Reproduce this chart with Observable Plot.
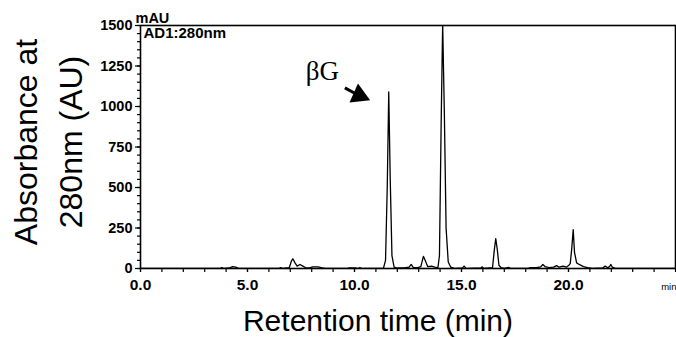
<!DOCTYPE html>
<html><head><meta charset="utf-8">
<script src="https://cdn.jsdelivr.net/npm/d3@7"></script>
<script src="https://cdn.jsdelivr.net/npm/@observablehq/plot@0.6"></script>
<style>body{margin:0;background:#fff}</style>
</head><body><div id="chart"></div>
<script>
// Chromatogram trace (retention time in min, absorbance in mAU)
const time = [0,3.7,3.8,3.9,4.15,4.3,4.45,4.6,6.45,6.55,6.65,6.95,7.05,7.12,7.22,7.32,7.45,7.55,7.7,7.9,8.05,8.3,8.5,8.65,
  9.65,9.75,10.05,10.15,10.25,10.35,11.35,11.45,11.53,11.6,11.67,11.75,11.85,12.0,12.3,12.55,12.65,12.75,12.95,13.1,13.22,13.32,13.42,13.6,13.75,13.9,
  13.97,14.05,14.12,14.2,14.28,14.38,14.5,14.7,15.05,15.12,15.2,15.3,15.9,15.97,16.05,16.45,16.53,16.6,16.67,16.75,16.85,17.0,17.2,17.3,
  18.1,18.2,18.5,18.7,18.8,18.9,19.1,19.3,19.45,19.55,19.75,19.9,20.0,20.08,20.15,20.22,20.28,20.38,20.5,20.7,20.9,21.1,21.6,21.72,21.82,21.92,21.98,22.05,22.2,25];
const mAU = [0,0,5,0,3,12,8,0,0,6,0,5,45,60,35,15,25,18,6,4,10,10,4,0,
  0,4,4,0,5,0,0,50,500,1090,550,80,8,3,3,8,25,6,5,12,75,45,12,14,8,6,
  80,900,1510,950,250,40,8,0,4,15,3,0,3,10,0,5,110,185,120,20,5,0,7,0,
  0,5,5,10,25,12,6,8,18,8,15,8,18,30,120,240,100,35,25,12,5,0,3,15,5,12,25,8,0,0];

const xMajorTicks = [0, 5, 10, 15, 20];
const xMinorTicks = [0,1,2,3,4,5,6,7,8,9,10,11,12,13,14,15,16,17,18,19,20,21,22,23,24,25];
const yMajorTicks = [0, 250, 500, 750, 1000, 1250, 1500];
const yMinorTicks = d3.range(0, 1501, 50);

// annotation: label and arrow (data coordinates)
const peakLabel = [{t: 8.5, v: 1220, text: "βG"}];
const arrowShaft = [{t1: 9.55, v1: 1115, t2: 10.25, v2: 1065}];
const arrowHead = [{t: 10.22, v: 1068}];

const data = time.map((t, i) => ({t, v: mAU[i]}));
const font = "'Liberation Sans', Arial, sans-serif";

const chart = Plot.plot({
  width: 676, height: 337,
  marginLeft: 140, marginRight: 1, marginTop: 25, marginBottom: 69,
  style: {fontFamily: font, color: "#000", background: "#fff", overflow: "visible"},
  x: {domain: [0, 25]},
  y: {domain: [0, 1500]},
  marks: [
    Plot.axisX({ticks: xMinorTicks, tickSize: 4, text: null, strokeWidth: 1.2}),
    Plot.axisX({ticks: xMajorTicks, tickSize: 4, tickPadding: 6, tickFormat: d => d.toFixed(1), fontSize: 15.5, fontWeight: "bold", label: null, strokeWidth: 1.2}),
    Plot.axisY({ticks: yMinorTicks, tickSize: 3, text: null, strokeWidth: 1.2}),
    Plot.axisY({ticks: yMajorTicks, tickSize: 5, tickPadding: 3, tickFormat: d => String(d), fontSize: 14.5, fontWeight: "bold", label: null, strokeWidth: 1.2}),
    Plot.line(data, {x: "t", y: "v", stroke: "#000", strokeWidth: 1.3, clip: true}),
    Plot.frame({stroke: "#000", strokeWidth: 1.6}),
    Plot.text(["mAU"], {frameAnchor: "top-left", textAnchor: "start", lineAnchor: "bottom", dx: -5, dy: -3, fontSize: 14.5, fontWeight: "bold"}),
    Plot.text(["AD1:280nm"], {frameAnchor: "top-left", textAnchor: "start", lineAnchor: "top", dx: 3, dy: 2, fontSize: 15, fontWeight: "bold"}),
    Plot.text(["min"], {frameAnchor: "bottom-right", textAnchor: "end", lineAnchor: "bottom", dx: 1, dy: 21, fontSize: 9.5}),
    Plot.text(["Retention time (min)"], {frameAnchor: "bottom", lineAnchor: "bottom", dx: -30, dy: 62, fontSize: 30}),
    Plot.text(["Absorbance at\n280nm (AU)"], {frameAnchor: "left", textAnchor: "middle", rotate: -90, lineAnchor: "middle", dx: -95, dy: -5, fontSize: 32, lineHeight: 1.4}),
    Plot.text(peakLabel, {x: "t", y: "v", text: "text", fontSize: 27, fontFamily: "'Liberation Serif', 'Times New Roman', serif"}),
    Plot.link(arrowShaft, {x1: "t1", y1: "v1", x2: "t2", y2: "v2", stroke: "#000", strokeWidth: 3}),
    Plot.dot(arrowHead, {x: "t", y: "v", symbol: "triangle", r: 7.7, fill: "#000", rotate: 114})
  ]
});
document.getElementById("chart").appendChild(chart);
</script>
</body></html>
